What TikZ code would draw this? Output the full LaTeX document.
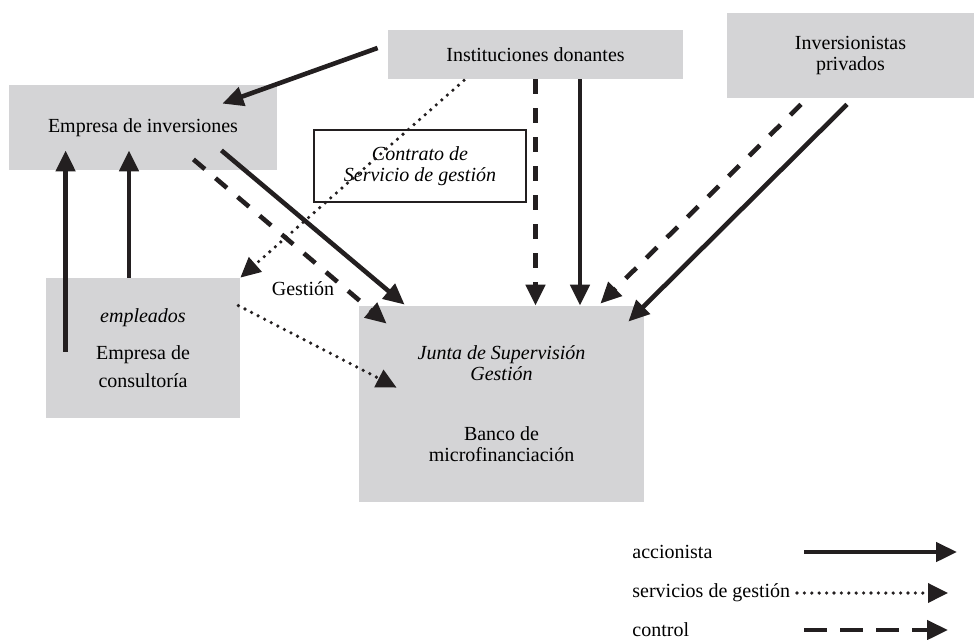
\documentclass[tikz,border=0pt]{standalone}
\usepackage{fontspec}
\setmainfont{Liberation Serif}
\usetikzlibrary{arrows.meta}
\definecolor{boxgray}{RGB}{212,212,214}
\definecolor{ink}{RGB}{35,31,32}

\begin{document}
\begin{tikzpicture}[x=0.5pt,y=-0.5pt,font=\fontsize{10}{10.5}\selectfont,
		caja/.style={fill=boxgray,inner sep=0pt,align=center},
		acc/.style={draw=ink,line width=2.3pt,-{Triangle[length=10.5pt,width=9.5pt]}},
		serv/.style={draw=ink,line width=1.8pt,line cap=round,dash pattern=on 0pt off 3.7pt,-{Triangle[length=10pt,width=9.5pt]}},
		ctrl/.style={draw=ink,line width=2.3pt,dash pattern=on 7.5pt off 7pt,-{Triangle[length=10.5pt,width=9.5pt]}}]
		\useasboundingbox (0,0) rectangle (974,639);
		
		\node [caja,minimum width=134pt,minimum height=42.5pt] (inv) at (143,127.5) {Empresa de inversiones};
		\node [caja,minimum width=147.5pt,minimum height=24.5pt] (don) at (535.5,54.5) {Instituciones donantes};
		\node [caja,minimum width=123.5pt,minimum height=42.5pt] (priv) at (850.5,55.5) {Inversionistas\\privados};
		\node [draw=ink,line width=1pt,fill=white,inner sep=0pt,align=center,minimum width=106pt,minimum height=36pt] (contr) at (420,166) {\textit{Contrato de}\\\textit{Servicio de gestión}};
		\node [caja,minimum width=97pt,minimum height=70pt] (cons) at (143,348) {\textit{empleados}\\[8pt]Empresa de\\[3.5pt]consultoría};
		\node [caja,minimum width=142.5pt,minimum height=98pt] (bank) at (501.5,404) {\textit{Junta de Supervisión}\\\textit{Gestión}\\[19.5pt]Banco de\\microfinanciación};
		\node (gest) at (303,289) {Gestión};
		
		% accionista
		\draw [acc]([shift={(-10,-6.5)}]don.west)--([shift={(-55,19)}]inv.north east);
		\coordinate (d4) at ([shift={(44.5,0)}]don.south);
		\draw [acc](d4)--(d4 |- bank.north);
		\draw [acc]([shift={(-3.5,6)}]priv.south)--([shift={(-16,16)}]bank.north east);
		\draw [acc]([shift={(-56,-20)}]inv.south east)--([shift={(46,-1)}]bank.north west);
		\draw [acc]([shift={(20,74)}]cons.north west)--([shift={(57,-20)}]inv.south west);
		\draw [acc]([shift={(-14,0)}]cons.north)--([shift={(-14,-20)}]inv.south);
		
		% servicios de gestion
		\draw [serv]([shift={(-71.5,1)}]don.south)--(cons.north east);
		\draw [serv]([shift={(-2,28)}]cons.north east)--([shift={(38,82)}]bank.north west);
		
		% control
		\draw [ctrl](don.south)--(don.south |- bank.north);
		\draw [ctrl]([shift={(-49.5,6)}]priv.south)--([shift={(-44,-2)}]bank.north east);
		\draw [ctrl]([shift={(-84,-11)}]inv.south east)--([shift={(28,18)}]bank.north west);
		
		% leyenda
		\node [anchor=west,inner sep=0pt] (lacc) at (632,552) {accionista};
		\node [anchor=west,inner sep=0pt] (lserv) at (632,593) {servicios de gestión};
		\node [anchor=west,inner sep=0pt] (lctrl) at (632,630) {control};
		\coordinate (k1) at (804,552);
		\coordinate (k2) at (797,593);
		\coordinate (k3) at (804,630);
		\draw [acc](k1)--++(153,0);
		\draw [serv](k2)--++(151,0);
		\draw [ctrl,dash pattern=on 11.5pt off 6.5pt](k3)--++(144,0);
	\end{tikzpicture}
\end{document}
